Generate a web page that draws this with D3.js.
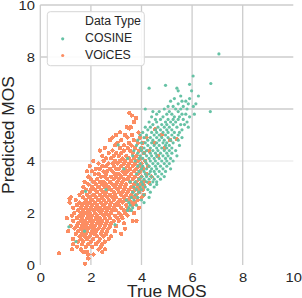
<!DOCTYPE html>
<html>
<head>
<meta charset="utf-8">
<script src="https://cdn.jsdelivr.net/npm/d3@7"></script>
<style>
html,body{margin:0;padding:0;background:#fff;}
svg{display:block;font-family:"Liberation Sans",Arial,sans-serif;}
</style>
</head>
<body>
<svg id="chart" width="302" height="298"></svg>
<script>
// Tick values / labels
const xTicks = [0, 2, 4, 6, 8, 10];
const yTicks = [0, 2, 4, 6, 8, 10];
const seriesNames = ["COSINE", "VOiCES"];
const seriesColors = ["#66c2a5", "#fc8d62"];

// Rows: [Predicted MOS, True MOS values...]
const voicesRows = [
[5.85,3.52],[5.75,3.62],[5.65,3.78],[5.5,3.70],[5.3,3.42,3.58],[5.25,3.52],[5.1,3.15,3.88],
[5.0,3.0,3.35,3.62],[4.9,2.85,3.45,3.95],[4.8,2.75,3.2,3.7],[4.7,3.05,3.5,3.85,4.05],
[4.6,2.95,3.3,3.6],[4.5,2.55,3.15,3.45,3.75,4.0],[4.4,2.35,2.85,3.3,3.55,3.9],
[4.3,2.7,3.0,3.2,3.65,4.1],[4.2,2.45,2.9,3.1,3.4,3.8],[4.1,2.6,2.8,3.25,3.5,3.7,3.95],
[4.0,2.1,2.5,2.95,3.15,3.35,3.6,3.85,4.15],[3.9,2.3,2.7,2.85,3.05,3.3,3.5,3.75,4.0],
[3.8,1.95,2.45,2.6,2.9,3.2,3.45,3.65,3.9],[3.7,2.2,2.35,2.75,3.0,3.1,3.35,3.55,3.8,4.05],
[3.6,1.85,2.05,2.5,2.65,2.85,3.25,3.45,3.7,3.95],[3.5,2.15,2.3,2.6,2.95,3.1,3.35,3.6,3.85,4.2],
[3.4,1.9,2.4,2.55,2.8,3.0,3.2,3.5,3.75,4.0],[3.3,2.0,2.25,2.65,2.9,3.1,3.3,3.45,3.65,3.9],
[3.2,1.75,2.1,2.35,2.5,2.75,3.05,3.25,3.55,3.8,4.1],[3.1,1.9,2.2,2.45,2.6,2.85,3.0,3.2,3.4,3.7,3.95],
[3.0,1.7,2.05,2.3,2.55,2.7,2.95,3.15,3.35,3.6,3.85],[2.9,1.8,2.0,2.15,2.4,2.65,2.8,3.05,3.3,3.5,3.75,4.05],
[2.8,1.65,1.95,2.25,2.5,2.6,2.9,3.1,3.25,3.45,3.65,3.9],[2.7,1.55,1.85,2.1,2.35,2.55,2.75,2.95,3.2,3.4,3.6,3.8],
[2.6,1.2,1.7,1.95,2.2,2.45,2.65,2.85,3.0,3.3,3.55,3.7,4.0],[2.55,1.16],
[2.5,1.4,1.8,2.05,2.3,2.5,2.7,2.9,3.15,3.35,3.5,3.85],[2.4,1.16,1.55,1.75,1.95,2.15,2.4,2.6,2.8,3.05,3.25,3.6,3.75],
[2.3,1.45,1.65,1.85,2.05,2.25,2.5,2.75,2.95,3.1,3.4,3.65],[2.2,1.3,1.6,1.8,2.0,2.2,2.35,2.55,2.7,2.9,3.2,3.45,3.9],
[2.1,1.5,1.7,1.9,2.1,2.3,2.45,2.65,2.85,3.0,3.3,3.55],[2.0,1.35,1.6,1.8,1.95,2.15,2.4,2.6,2.8,3.1,3.35,3.7],
[1.9,1.25,1.55,1.7,1.9,2.05,2.25,2.5,2.7,2.95,3.2,3.45],[1.8,1.05,1.45,1.65,1.85,2.0,2.2,2.35,2.55,2.75,3.05,3.25],
[1.7,1.3,1.6,1.75,1.95,2.1,2.3,2.45,2.65,2.9,3.1,3.65,3.8],[1.6,1.5,1.7,1.85,2.05,2.25,2.4,2.6,2.8,3.3],
[1.5,1.2,1.45,1.65,1.8,2.0,2.15,2.35,2.55,2.75,3.0],[1.4,1.35,1.6,1.75,1.9,2.1,2.3,2.5,2.7,3.35],
[1.3,1.1,1.5,1.7,1.85,2.05,2.2,2.45,2.65,2.95],[1.2,1.4,1.65,1.8,2.0,2.15,2.4,2.6,3.2],
[1.1,1.55,1.75,1.95,2.25,2.5,2.8],[1.0,1.3,1.6,1.85,2.1,2.35,2.7],[0.9,1.5,1.7,2.0,2.3,2.55],
[0.8,1.3,1.65,1.9,2.2,2.45],[0.7,1.45,1.8,2.05,2.4],[0.6,1.25,1.6,2.3,2.55],[0.5,1.7,1.85,2.45],
[0.45,0.74],[0.4,1.9,2.1],[0.25,1.9],[0.05,1.77],
[5.22,4.53],[5.0,4.8],[4.85,5.39],[4.8,5.13],[4.7,4.5],[4.5,4.9],[4.9,4.2],[4.2,4.65],[4.4,4.3],
[3.17,4.3],[3.4,4.4],[3.8,4.25],[2.9,3.95],[2.7,4.1],[3.05,4.1]
];

const cosineRows = [
[8.12,7.06],[7.27,6.04],[6.98,6.74],[6.95,5.9],[6.91,4.95],[6.8,4.3,5.4],[6.7,5.98,5.45],
[6.5,5.55,6.25],[6.4,5.3,5.9],[6.3,5.15,5.6,5.75],[6.2,5.45,5.85,6.15],[6.1,5.05,5.25,5.65,6.05],
[6.0,4.15,4.9,5.35,5.55,5.8],[5.9,4.45,4.7,5.1,5.45,6.72],[5.8,4.6,5.0,5.2,5.6,5.75,6.09],
[5.7,4.4,4.85,5.3,5.5,5.9],[5.6,4.55,4.75,5.05,5.25,5.45,5.65],[5.5,4.3,4.6,4.95,5.15,5.35,5.8],
[5.4,4.45,4.8,5.0,5.25,5.55,5.7],[5.3,4.15,4.35,4.65,4.9,5.1,5.4,5.85],[5.2,4.25,4.55,4.75,5.0,5.2,5.6],
[5.1,4.05,4.4,4.6,4.85,5.05,5.3,5.5],[5.0,3.95,4.2,4.5,4.7,4.95,5.2,5.45],
[4.9,4.1,4.35,4.6,4.8,5.05,5.3,5.6],[4.8,3.85,4.25,4.45,4.7,4.9,5.15,5.45],
[4.7,4.0,4.15,4.4,4.6,4.85,5.0,5.25],[4.6,3.8,4.25,4.5,4.7,4.95,5.1,5.5],
[4.5,3.95,4.1,4.35,4.6,4.8,5.0,5.2],[4.4,3.7,4.0,4.2,4.45,4.65,4.9,5.1,5.35],
[4.3,3.85,4.1,4.35,4.55,4.75,5.0,5.2],[4.2,3.65,3.95,4.2,4.4,4.6,4.85,5.05,5.4],
[4.1,3.9,4.05,4.3,4.5,4.7,4.95,5.15],[4.0,3.75,4.15,4.35,4.55,4.8,5.0,5.25],
[3.9,3.95,4.2,4.45,4.65,4.9,5.1],[3.8,3.85,4.05,4.3,4.55,4.75,5.0],[3.7,4.0,4.2,4.4,4.6,4.85,5.15],
[3.6,3.9,4.1,4.35,4.5,4.7,4.95],[3.5,3.8,4.15,4.3,4.55,4.8],[3.4,4.0,4.2,4.4,4.65,4.9],
[3.3,3.9,4.1,4.3,4.5,4.75],[3.2,3.75,4.0,4.2,4.45,4.6],[3.1,3.85,4.05,4.35,4.6],
[3.0,3.7,3.95,4.15,4.5],[2.9,3.8,4.0,4.25],[2.8,3.65,3.9,4.35],[2.7,3.75,4.1],[2.6,3.6,3.85,4.3],
[2.5,3.7,4.0],[2.4,3.5,4.1],[2.3,3.55,3.8],[2.2,3.5,3.65],[2.1,3.45,3.6],
[1.47,1.13],[0.9,1.41],[2.83,1.79],[4.62,3.08],[3.7,3.3],[1.55,2.95],[1.3,1.75],[2.5,3.4],[3.2,3.55],[4.1,3.45],[2.9,2.6]
];

function rowsToPoints(rows){
  const pts = [];
  rows.forEach(r => { for (let i = 1; i < r.length; i++) pts.push({t: r[i], p: r[0]}); });
  return pts;
}
const cosinePts = rowsToPoints(cosineRows);
const voicesPts = rowsToPoints(voicesRows);

const svg = d3.select("#chart");
const x = d3.scaleLinear().domain([0, 10]).range([40.3, 293.3]);
const y = d3.scaleLinear().domain([0, 10]).range([265, 5]);
const textColor = "#262626";

// Gridlines (as rendered in the reference: some faded by resampling)
const hGridColor = {10:"#cccccc", 8:"#cccccc", 6:"#cccccc", 4:"#eeeeee", 2:"none", 0:"none"};
const vGridColor = {0:"#cccccc", 2:"#cccccc", 4:"#cccccc", 6:"#cccccc", 8:"#cccccc", 10:"none"};
const grid = svg.append("g");
grid.selectAll("line.h").data(yTicks).join("line").attr("class","h")
  .attr("x1", x(0)).attr("x2", x(10)).attr("y1", d => y(d)).attr("y2", d => y(d))
  .attr("stroke", d => hGridColor[d]).attr("stroke-width", 1.3);
grid.selectAll("line.v").data(xTicks).join("line").attr("class","v")
  .attr("x1", d => x(d)).attr("x2", d => x(d)).attr("y1", y(0)).attr("y2", y(10))
  .attr("stroke", d => vGridColor[d]).attr("stroke-width", 1.3);

// Axes (labels only)
const xAxis = svg.append("g").attr("transform", `translate(0,${y(0)})`)
  .call(d3.axisBottom(x).tickValues(xTicks).tickSize(0).tickPadding(8));
const yAxis = svg.append("g").attr("transform", `translate(${x(0)},0)`)
  .call(d3.axisLeft(y).tickValues(yTicks).tickSize(0).tickPadding(4.5));
[xAxis, yAxis].forEach(g => {
  g.select(".domain").remove();
  g.selectAll("text").attr("fill", textColor).style("font-size", "12.5px")
    .style("font-family", '"Liberation Sans", Arial, sans-serif')
    .attr("transform", "scale(1.18,1)");
});

// Points
svg.append("g").attr("shape-rendering","crispEdges").selectAll("circle").data(voicesPts).join("circle")
  .attr("cx", d => x(d.t)).attr("cy", d => y(d.p)).attr("r", 2.2)
  .attr("fill", seriesColors[1]);
svg.append("g").selectAll("circle").data(cosinePts).join("circle")
  .attr("cx", d => x(d.t)).attr("cy", d => y(d.p)).attr("r", 1.6)
  .attr("fill", seriesColors[0]);

// Axis titles
svg.append("text").attr("x", (x(0)+x(10))/2).attr("y", 296.5).attr("text-anchor","middle")
  .attr("fill", textColor).style("font-size","17.4px").text("True MOS");
svg.append("text").attr("transform", `translate(13.5,${(y(0)+y(10))/2}) rotate(-90)`)
  .attr("text-anchor","middle").attr("fill", textColor).style("font-size","17.4px").text("Predicted MOS");

// Legend
const lg = svg.append("g");
lg.append("rect").attr("x", 47.3).attr("y", 11.7).attr("width", 97).attr("height", 54).attr("rx", 3)
  .attr("fill", "#fff").attr("fill-opacity", 0.9).attr("stroke", "#d6d6d6").attr("stroke-width", 1);
lg.append("text").attr("x", 85).attr("y", 25.3).attr("fill", textColor).style("font-size","12.3px").text("Data Type");
seriesNames.forEach((n, i) => {
  lg.append("circle").attr("cx", 62.7).attr("cy", 38.8 + i*16.7).attr("r", 1.6).attr("fill", seriesColors[i]);
  lg.append("text").attr("x", 85).attr("y", 42.3 + i*16.7).attr("fill", textColor).style("font-size","12.3px").text(n);
});
</script>
</body>
</html>
